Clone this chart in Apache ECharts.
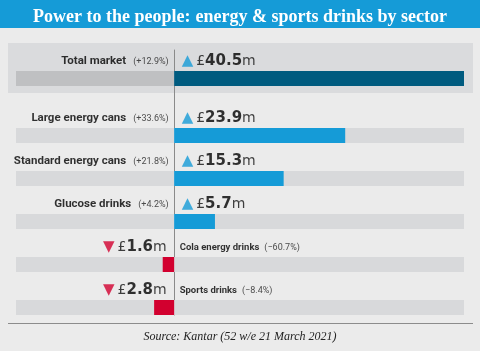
<!DOCTYPE html>
<html>
<head>
    <meta charset="utf-8">
    <title>Power to the people</title>
    <script src="https://cdn.jsdelivr.net/npm/echarts@6/dist/echarts.min.js"></script>
    <style>
        html, body { margin: 0; padding: 0; background: #ebebeb; }
        #chart { width: 480px; height: 351px; }
    </style>
</head>
<body>
<div id="chart"></div>
<script type="text/javascript">
// 数据
var totalCategory = ['Total market'];
var totalChange = ['+12.9%'];
var totalValue = [40.5];

var categories = ['Large energy cans', 'Standard energy cans', 'Glucose drinks', 'Cola energy drinks', 'Sports drinks'];
var changes = ['+33.6%', '+21.8%', '+4.2%', '\u221260.7%', '\u22128.4%'];
var values = [23.9, 15.3, 5.7, 1.6, 2.8];

var blue = '#159bd7';
var darkBlue = '#005b7f';
var red = '#d2002f';
var nameFont = 'Roboto, "Liberation Sans", sans-serif';
var valueFont = '"DejaVu Sans", sans-serif';

function isDown(ch) { return ch.charAt(0) !== '+'; }

// 下降的品类画在零线左边
function barData(vals, chs, color) {
    return vals.map(function (v, i) {
        var down = isDown(chs[i]);
        return { value: down ? -v : v, itemStyle: { color: color || (down ? red : blue) } };
    });
}

function nameItems(cats, chs) {
    return cats.map(function (c, i) {
        var down = isDown(chs[i]);
        return {
            value: [0, c],
            change: chs[i],
            down: down,
            label: { position: down ? 'right' : 'left', distance: 5 }
        };
    });
}

function valueItems(cats, vals, chs) {
    return cats.map(function (c, i) {
        var down = isDown(chs[i]);
        return {
            value: [0, c],
            amount: vals[i],
            down: down,
            label: { position: down ? 'left' : 'right', distance: 7 }
        };
    });
}

var nameRich = {
    n: { fontFamily: nameFont, fontWeight: 'bold', fontSize: 11.5, color: '#000' },
    p: { fontFamily: nameFont, fontSize: 9, color: '#222', padding: [0, 0, 0, 7] },
    ns: { fontFamily: nameFont, fontWeight: 'bold', fontSize: 9.5, color: '#000' },
    ps: { fontFamily: nameFont, fontSize: 9, color: '#222', padding: [0, 0, 0, 5] }
};
var valueRich = {
    up: { fontFamily: valueFont, fontSize: 15, color: blue, padding: [0, 3, 0, 0] },
    dn: { fontFamily: valueFont, fontSize: 15, color: red, padding: [0, 3, 0, 0] },
    c: { fontFamily: valueFont, fontSize: 14, color: '#111' },
    v: { fontFamily: valueFont, fontWeight: 'bold', fontSize: 15, color: '#000' }
};

function nameLabel() {
    return {
        show: true, offset: [0, -17], rich: nameRich,
        formatter: function (p) {
            var s = p.data.down ? 's' : '';
            return '{n' + s + '|' + p.data.value[1] + '}{p' + s + '|(' + p.data.change + ')}';
        }
    };
}
function valueLabel() {
    return {
        show: true, offset: [0, -17], rich: valueRich,
        formatter: function (p) {
            var t = p.data.down ? '{dn|\u25BC}' : '{up|\u25B2}';
            return t + '{c|\u00A3}{v|' + p.data.amount + '}{c|m}';
        }
    };
}

var xMin = -22.1, xMax = 40.5;
function xAxisFor(idx) {
    return { gridIndex: idx, type: 'value', min: xMin, max: xMax, show: false };
}

function labelSeries(axisIdx, data, label) {
    return {
        type: 'scatter', xAxisIndex: axisIdx, yAxisIndex: axisIdx,
        symbolSize: 1, itemStyle: { color: 'rgba(0,0,0,0)' },
        emphasis: { disabled: true },
        data: data, label: label, z: 5
    };
}

var myChart = echarts.init(document.getElementById('chart'));

myChart.setOption({
    backgroundColor: '#ebebeb',
    animation: false,
    title: [{
        text: '{b|Power to the people:} {r|energy & sports drinks by sector}',
        left: 'center', top: 3,
        textStyle: {
            rich: {
                b: { fontFamily: '"Liberation Serif", serif', fontWeight: 'bold', fontSize: 18, color: '#fff' },
                r: { fontFamily: '"Liberation Serif", serif', fontSize: 18, color: '#fff' }
            }
        }
    }, {
        text: 'Source: Kantar (52 w/e 21 March 2021)',
        left: 'center', top: 326,
        textStyle: { fontFamily: '"Liberation Serif", serif', fontStyle: 'italic', fontWeight: 'normal', fontSize: 12, color: '#222' }
    }],
    graphic: [
        { type: 'rect', z: -10, shape: { x: 0, y: 0, width: 480, height: 28 }, style: { fill: blue } },
        { type: 'rect', z: -10, shape: { x: 8, y: 43, width: 465, height: 50 }, style: { fill: '#dadbdd' } },
        { type: 'line', z: -10, shape: { x1: 8, y1: 323.5, x2: 473, y2: 323.5 }, style: { stroke: '#8c8c8c', lineWidth: 1 } }
    ],
    grid: [
        { left: 16, right: 16, top: 57, height: 43 },
        { left: 16, right: 16, top: 114, height: 215 },
        { left: 16, right: 16, top: 50, height: 265 }
    ],
    xAxis: [xAxisFor(0), xAxisFor(1), xAxisFor(2)],
    yAxis: [
        { gridIndex: 0, type: 'category', data: totalCategory, inverse: true, show: false },
        { gridIndex: 1, type: 'category', data: categories, inverse: true, show: false },
        {
            gridIndex: 2, type: 'value', min: 0, max: 1,
            axisLine: { show: true, onZero: true, lineStyle: { color: '#8a8a8a', width: 1 } },
            axisTick: { show: false }, axisLabel: { show: false }, splitLine: { show: false }
        }
    ],
    series: [
        {
            type: 'bar', xAxisIndex: 0, yAxisIndex: 0, barWidth: 15,
            data: barData(totalValue, totalChange, darkBlue),
            showBackground: true, backgroundStyle: { color: '#bfc0c2' }
        },
        {
            type: 'bar', xAxisIndex: 1, yAxisIndex: 1, barWidth: 15,
            data: barData(values, changes),
            showBackground: true, backgroundStyle: { color: '#d8d9db' }
        },
        labelSeries(0, nameItems(totalCategory, totalChange), nameLabel()),
        labelSeries(0, valueItems(totalCategory, totalValue, totalChange), valueLabel()),
        labelSeries(1, nameItems(categories, changes), nameLabel()),
        labelSeries(1, valueItems(categories, values, changes), valueLabel())
    ]
});
</script>
</body>
</html>
